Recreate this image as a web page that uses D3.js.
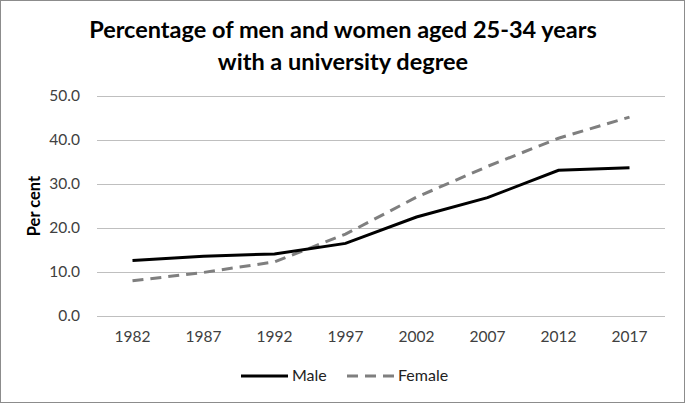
<html>
<head>
<meta charset="utf-8">
<style>
  body { margin: 0; background: #fff; }
  svg { font-family: Lato, "Open Sans", sans-serif; }
</style>
</head>
<body>
<div id="chart"></div>
<script src="https://d3js.org/d3.v7.min.js"></script>
<script>
'use strict';

var years = ['1982', '1987', '1992', '1997', '2002', '2007', '2012', '2017'];
var male = [12.6, 13.6, 14.1, 16.5, 22.5, 26.9, 33.1, 33.7];
var female = [8.0, 9.9, 12.3, 18.6, 27.0, 34.0, 40.4, 45.2];
var yTicks = [0, 10, 20, 30, 40, 50];
var titleLines = ['Percentage of men and women aged 25-34 years', 'with a university degree'];

var W = 685, H = 403;
var m = {left: 97, right: 20, top: 96, bottom: 87};

var svg = d3.select('#chart').append('svg')
  .attr('width', W).attr('height', H);

svg.append('rect')
  .attr('x', 0.5).attr('y', 0.5)
  .attr('width', W - 1).attr('height', H - 1)
  .attr('fill', '#fff').attr('stroke', '#8c8c8c');

var x = d3.scaleBand().domain(years).range([m.left, W - m.right]);
var y = d3.scaleLinear().domain([0, 50]).range([H - m.bottom, m.top]);

// title
svg.append('g').selectAll('text')
  .data(titleLines)
  .join('text')
    .attr('x', 343).attr('y', (d, i) => 38 + i * 32)
    .attr('text-anchor', 'middle')
    .attr('font-size', 23.5).attr('font-weight', 'bold')
    .attr('fill', '#000')
    .text(d => d);

// grid
var yAxis = d3.axisLeft(y).tickValues(yTicks)
  .tickSize(-(W - m.left - m.right)).tickPadding(17)
  .tickFormat(d3.format('.1f'));
var gy = svg.append('g').attr('transform', 'translate(' + m.left + ',0)').call(yAxis);
gy.select('.domain').remove();
gy.selectAll('line').attr('stroke', '#bfbfbf').attr('stroke-width', 1.2);
gy.selectAll('text').attr('font-size', 15.5).attr('fill', '#404040')
  .attr('font-family', 'Lato, sans-serif');

var xAxis = d3.axisBottom(x).tickSize(0).tickPadding(15);
var gx = svg.append('g').attr('transform', 'translate(0,' + (H - m.bottom) + ')').call(xAxis);
gx.select('.domain').remove();
gx.selectAll('text').attr('font-size', 15.5).attr('fill', '#404040')
  .attr('font-family', 'Lato, sans-serif');

// y label
svg.append('text')
  .attr('transform', 'translate(40,' + y(25) + ') rotate(-90)')
  .attr('text-anchor', 'middle')
  .attr('font-size', 16.5).attr('font-weight', 'bold')
  .text('Per cent');

var line = d3.line()
  .x((d, i) => x(years[i]) + x.bandwidth() / 2)
  .y(d => y(d));

svg.append('path').datum(female)
  .attr('d', line).attr('fill', 'none')
  .attr('stroke', '#7f7f7f').attr('stroke-width', 3)
  .attr('stroke-dasharray', '11,7');

svg.append('path').datum(male)
  .attr('d', line).attr('fill', 'none')
  .attr('stroke', '#000').attr('stroke-width', 3);

// legend
var leg = svg.append('g');
leg.append('line').attr('x1', 241).attr('x2', 288).attr('y1', 376).attr('y2', 376)
  .attr('stroke', '#000').attr('stroke-width', 3);
leg.append('text').attr('x', 292).attr('y', 381).attr('font-size', 16).attr('fill', '#222').text('Male');
leg.append('line').attr('x1', 347).attr('x2', 394).attr('y1', 376).attr('y2', 376)
  .attr('stroke', '#7f7f7f').attr('stroke-width', 3).attr('stroke-dasharray', '11,7');
leg.append('text').attr('x', 398).attr('y', 381).attr('font-size', 16).attr('fill', '#222').text('Female');
</script>
</body>
</html>
